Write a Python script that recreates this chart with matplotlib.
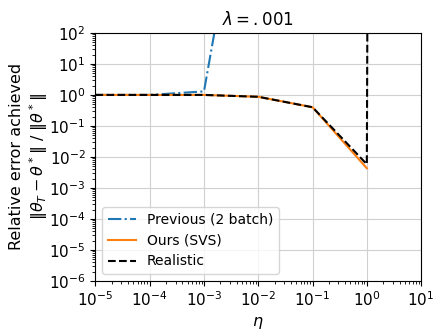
import numpy as np
import matplotlib
matplotlib.use("Agg")
import matplotlib.pyplot as plt
from matplotlib.ticker import LogLocator, NullFormatter

eta_prev = [1e-5, 1e-4, 1e-3, 1e-2]
err_prev = [1.0, 1.0, 1.3, 1e10]

eta_ours = [1e-5, 1e-4, 1e-3, 1e-2, 1e-1, 1e0]
err_ours = [1.0, 1.0, 1.0, 0.87, 0.4, 0.0043]

eta_real = [1e-5, 1e-4, 1e-3, 1e-2, 1e-1, 1e0, 1.05]
err_real = [1.0, 1.0, 1.0, 0.87, 0.4, 0.0058, 1e8]

fig, ax = plt.subplots(figsize=(4.48, 3.36), dpi=100)
fig.subplots_adjust(left=0.213, right=0.94, top=0.902, bottom=0.164)

ax.plot(eta_prev, err_prev, '-.', color='tab:blue', label='Previous (2 batch)')
ax.plot(eta_ours, err_ours, '-', color='tab:orange', label='Ours (SVS)')
ax.plot(eta_real, err_real, '--', color='black', label='Realistic')

ax.set_xscale('log')
ax.set_yscale('log')
ax.set_xlim(1e-5, 1e1)
ax.set_ylim(1e-6, 1e2)
ax.set_xticks([10.0 ** k for k in range(-5, 2)])
ax.set_yticks([10.0 ** k for k in range(-6, 3)])
for axis in (ax.xaxis, ax.yaxis):
    axis.set_minor_locator(LogLocator(base=10, subs=np.arange(2, 10), numticks=50))
    axis.set_minor_formatter(NullFormatter())
ax.tick_params(labelsize=11)
ax.grid(True, which='major', color='#d0d0d0')

ax.set_title(r'$\lambda = .001$', fontsize=12)
ax.set_xlabel(r'$\eta$', fontsize=11.5)
ax.set_ylabel('Relative error achieved\n' + r'$\|\theta_T - \theta^*\|\ /\ \|\theta^*\|$',
              fontsize=11.5)
ax.yaxis.set_label_coords(-0.14, 0.5)
ax.legend(loc='lower left', fontsize=10)

fig.savefig('out.png')
plt.close(fig)
